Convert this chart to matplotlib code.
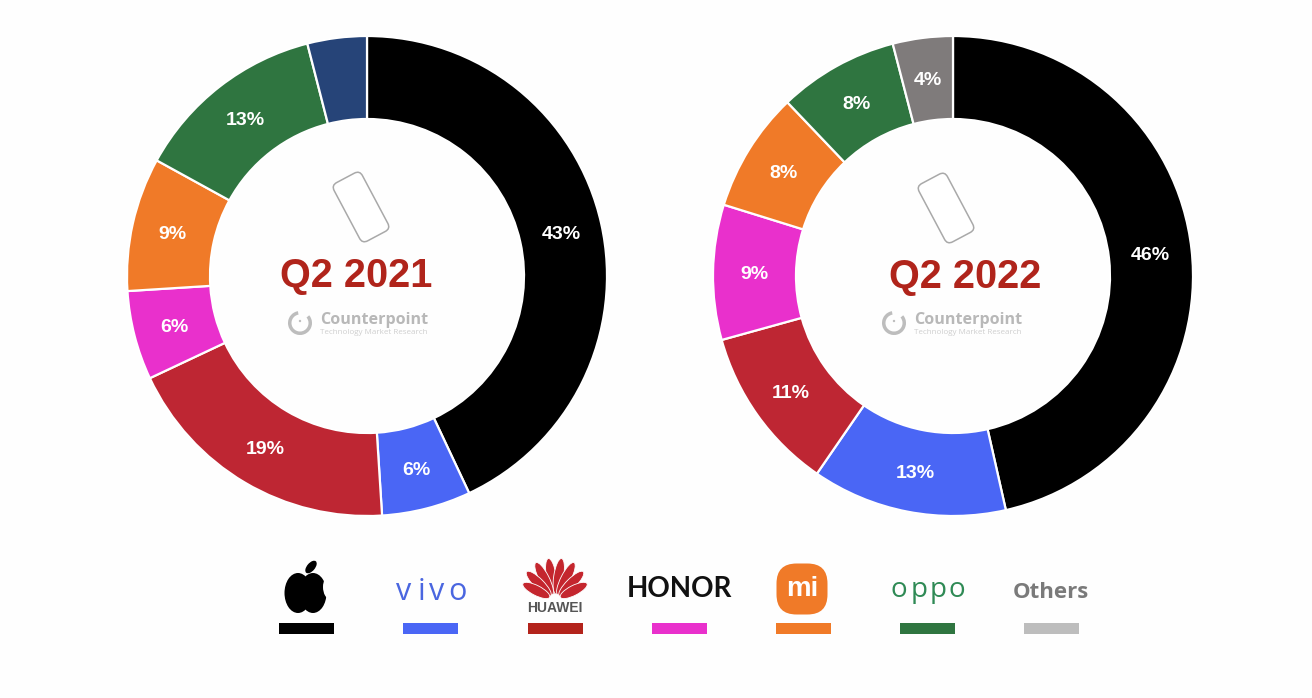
import matplotlib
matplotlib.use("Agg")
import matplotlib.pyplot as plt
from matplotlib.patches import Circle, Ellipse, FancyBboxPatch, Rectangle, Wedge
from matplotlib.transforms import Affine2D
import numpy as np

# data
brands = ["Apple", "vivo", "Huawei", "Honor", "Xiaomi", "Oppo", "Others"]
share_2021 = [43, 6, 19, 6, 9, 13, 4]
share_2022 = [46, 13, 11, 9, 8, 8, 4]
labels_2021 = ["43%", "6%", "19%", "6%", "9%", "13%", ""]
labels_2022 = ["46%", "13%", "11%", "9%", "8%", "8%", "4%"]
colors_2021 = ["#000000", "#4A66F5", "#BE2633", "#E930CC", "#F07A28", "#2F7540", "#264478"]
colors_2022 = ["#000000", "#4A66F5", "#BE2633", "#E930CC", "#F07A28", "#2F7540", "#7F7B7B"]
legend_colors = ["#000000", "#4A66F5", "#B3231B", "#E930CC", "#F07A28", "#2F7540", "#BDBDBD"]

W, H = 1312, 698
RED = "#B0241B"
GREY = "#B8B8B8"
BG = "#FEFEFE"

fig = plt.figure(figsize=(W / 100, H / 100), dpi=100, facecolor=BG)
ax = fig.add_axes([0, 0, 1, 1])


def Y(y):
    # picture pixels count from the top
    return H - y


def donut(values, labels, colors, cx, cy):
    wedges, _ = ax.pie(values, colors=colors, startangle=90, counterclock=False,
                       center=(cx, Y(cy)), radius=240, frame=True,
                       wedgeprops={"width": 83, "edgecolor": "white", "linewidth": 1.6})
    for w, lab in zip(wedges, labels):
        mid = np.deg2rad((w.theta1 + w.theta2) / 2)
        ax.text(cx + 199 * np.cos(mid), Y(cy) + 199 * np.sin(mid) - 2, lab, color="white",
                fontsize=14, fontweight="bold", family="Liberation Sans",
                ha="center", va="center")


def phone(cx, cy):
    rot = Affine2D().rotate_deg_around(cx, Y(cy), 28) + ax.transData
    ax.add_patch(FancyBboxPatch((cx - 13, Y(cy) - 30), 26, 60,
                                boxstyle="round,pad=3,rounding_size=6", fc="white",
                                ec="#A9A9A9", lw=1.1, transform=rot))


def counterpoint(x, y):
    # x, y = centre of the round logo
    ax.add_patch(Wedge((x, Y(y)), 12, 100, 400, width=3.5, fc="#BDBDBD", ec="none"))
    ax.add_patch(Circle((x, Y(y) + 2), 1.2, fc="#BDBDBD", ec="none"))
    ax.text(x + 20, Y(y - 3), "Counterpoint", color=GREY, fontsize=11.6, fontweight="bold",
            family="Open Sans", ha="left", va="center")
    ax.text(x + 20, Y(y + 9), "Technology Market Research", color="#CFCFCF", fontsize=5.8,
            family="Open Sans", ha="left", va="center")


def apple_logo(cx):
    ax.add_patch(Ellipse((cx - 8, Y(593)), 27, 40, fc="black", ec="none"))
    ax.add_patch(Ellipse((cx + 7, Y(593)), 27, 40, fc="black", ec="none"))
    ax.add_patch(Ellipse((cx + 24, Y(587)), 14, 24, fc=BG, ec="none"))
    ax.add_patch(Ellipse((cx + 5, Y(567)), 8, 15, angle=-40, fc="black", ec="none"))


def huawei_logo(cx):
    base = Y(600)
    for ang, ln, dist in [(9, 36, 24), (27, 36, 24), (45, 34, 23), (63, 30, 21)]:
        a = np.deg2rad(ang)
        for s in (-1, 1):
            ax.add_patch(Ellipse((cx + s * dist * np.sin(a), base + dist * np.cos(a)),
                                 ln, 10, angle=90 - s * ang,
                                 fc="#C4262E", ec=BG, lw=0.6))
    ax.text(cx, Y(608), "HUAWEI", color="#555555", fontsize=10, fontweight="bold",
            family="Liberation Sans", ha="center", va="center")


def mi_logo(cx, cy):
    ax.add_patch(FancyBboxPatch((cx - 10, Y(cy) - 10), 20, 20,
                                boxstyle="round,pad=15.5,rounding_size=20",
                                fc="#F07A28", ec="none"))
    ax.text(cx, Y(cy), "mi", color="white", fontsize=20, fontweight="bold",
            family="Liberation Sans", ha="center", va="center")


def spaced(word, xs, y, **kw):
    for ch, x in zip(word, xs):
        ax.text(x, Y(y), ch, ha="center", va="center", **kw)


donut(share_2021, labels_2021, colors_2021, 367, 276)
donut(share_2022, labels_2022, colors_2022, 953, 276)

phone(361, 207)
phone(946, 208)
ax.text(356, Y(276), "Q2 2021", color=RED, fontsize=28.5, fontweight="bold",
        family="Liberation Sans", ha="center", va="center")
ax.text(965, Y(277), "Q2 2022", color=RED, fontsize=28.5, fontweight="bold",
        family="Liberation Sans", ha="center", va="center")
counterpoint(300, 323)
counterpoint(894, 323)

# legend row
legend_x = [306, 430, 555, 679, 803, 927, 1051]
for x, c in zip(legend_x, legend_colors):
    ax.add_patch(Rectangle((x - 27.5, Y(633.5)), 55, 11, fc=c, ec="none"))

apple_logo(306)
spaced("vivo", [404, 421, 437, 457], 592, color="#4A66E0", fontsize=22, family="Open Sans")
huawei_logo(555)
ax.text(679, Y(589), "HONOR", color="#111111", fontsize=20, fontweight="bold",
        family="Lato", ha="center", va="center")
mi_logo(802, 589)
spaced("oppo", [899, 919, 938, 957], 590, color="#2F8A55", fontsize=20, family="Open Sans")
ax.text(1051, Y(592), "Others", color="#7A7A7A", fontsize=16, fontweight="bold",
        family="Open Sans", ha="center", va="center")

ax.set_xlim(0, W)
ax.set_ylim(0, H)
ax.set_aspect("auto")
ax.axis("off")

fig.savefig("out.png", dpi=100, facecolor=fig.get_facecolor())
